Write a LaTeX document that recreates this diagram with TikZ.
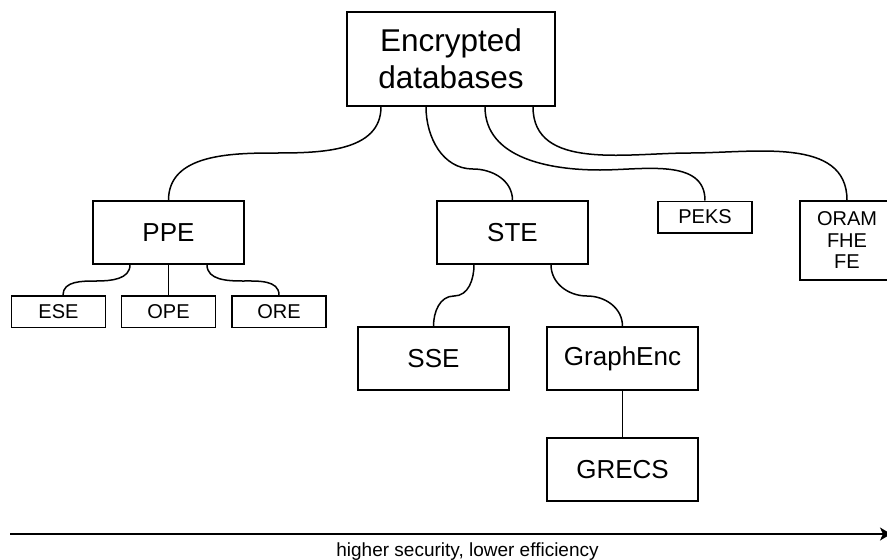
\documentclass[tikz,border=0pt]{standalone}
\usepackage{fontspec}
\setmainfont{Liberation Sans}
\usetikzlibrary{arrows.meta}

\begin{document}
\begin{tikzpicture}[x=1pt, y=1pt,
    box/.style={draw, line width=1.5pt, align=center, inner sep=0pt},
    bigbox/.style={box, minimum width=151pt, minimum height=63pt, font=\fontsize{26}{30}\selectfont},
    smallbox/.style={box, minimum width=94pt, minimum height=31.5pt, font=\fontsize{20}{21.5}\selectfont},
    link/.style={line width=1.5pt}]

    \useasboundingbox (0,0) rectangle (887,-560);

    \node[box, minimum width=208pt, minimum height=94pt, font=\fontsize{31.5}{37}\selectfont] (enc) at (451,-59) {Encrypted\\databases};

    \node[bigbox] (ppe) at (168.5,-232.5) {PPE};
    \node[bigbox] (ste) at (512.5,-232.5) {STE};
    \node[smallbox] (peks) at (705,-217) {PEKS};
    \node[smallbox, minimum height=79pt] (oram) at (847,-240.5) {ORAM\\FHE\\FE};

    \node[smallbox] (ese) at (58.5,-311.5) {ESE};
    \node[smallbox] (ope) at (168.5,-311.5) {OPE};
    \node[smallbox] (ore) at (279,-311.5) {ORE};

    \node[bigbox] (sse) at (433.5,-358.5) {SSE};
    \node[bigbox] (graphenc) at (622.5,-358.5) {GraphEnc};
    \node[bigbox] (grecs) at (622.5,-469.5) {GRECS};

    % bends of the curved links
    \coordinate (encppe) at (275,-153);
    \coordinate (encste) at (473,-169);
    \coordinate (encpeks) at (600,-170);
    \coordinate (encoram) at (690,-153);
    \coordinate (ppeese) at (96.5,-281);
    \coordinate (ppeore) at (243,-281);
    \coordinate (stesse) at (454,-296);
    \coordinate (stegraph) at (587,-296);

    \draw[link] ([xshift=-70pt]enc.south) to[out=-90,in=0] (encppe) to[out=180,in=90] (ppe.north);
    \draw[link] ([xshift=-25pt]enc.south) to[out=-90,in=180] (encste) to[out=0,in=90] (ste.north);
    \draw[link] ([xshift=34pt]enc.south) to[out=-90,in=180] (encpeks) to[out=0,in=90] (peks.north);
    \draw[link] ([xshift=82pt]enc.south) to[out=-90,in=180] (encoram) to[out=0,in=90] (oram.north);

    \draw[link] ([xshift=-38.5pt]ppe.south) to[out=-90,in=0] (ppeese) to[out=180,in=90] ([xshift=4.5pt]ese.north);
    \draw[link] (ppe.south) -- (ope.north);
    \draw[link] ([xshift=38.5pt]ppe.south) to[out=-90,in=180] (ppeore) to[out=0,in=90] (ore.north);

    \draw[link] ([xshift=-38.5pt]ste.south) to[out=-90,in=0] (stesse) to[out=180,in=90] (sse.north);
    \draw[link] ([xshift=38.5pt]ste.south) to[out=-90,in=180] (stegraph) to[out=0,in=90] (graphenc.north);

    \draw[link] (graphenc.south) -- (grecs.north);

    % efficiency axis
    \coordinate (axisstart) at (10,-534);
    \coordinate (axisend) at (891,-534);
    \draw[link, -{Stealth[length=11pt,width=13pt,inset=3pt]}] (axisstart) -- (axisend);
    \node[anchor=base, font=\fontsize{19}{21}\selectfont] (axislabel) at (467.5,-556) {higher security, lower efficiency};

\end{tikzpicture}
\end{document}
